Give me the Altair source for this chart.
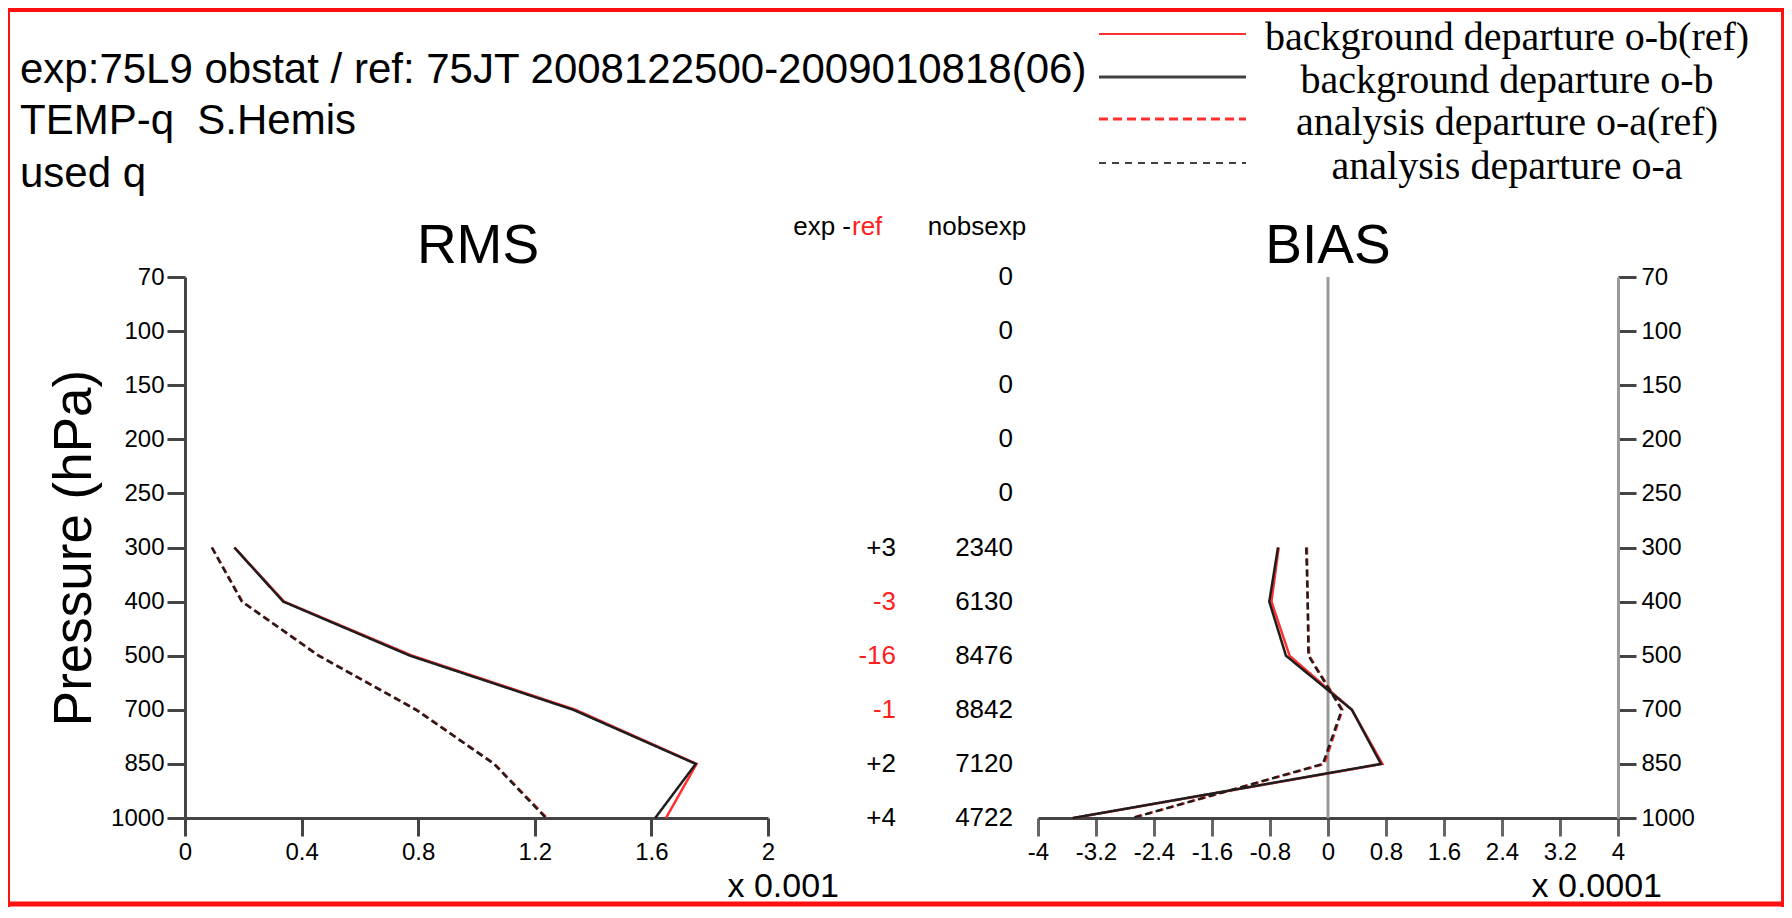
import altair as alt
import pandas as pd

# ---------------- data ----------------
levels = ["70", "100", "150", "200", "250", "300", "400", "500", "700", "850", "1000"]
obs_levels = ["300", "400", "500", "700", "850", "1000"]

# RMS  (x 0.001)
rms_ob_ref = [0.170, 0.340, 0.780, 1.340, 1.755, 1.650]
rms_ob_exp = [0.169, 0.337, 0.772, 1.332, 1.752, 1.613]
rms_oa_ref = [0.093, 0.197, 0.460, 0.795, 1.062, 1.242]
rms_oa_exp = [0.092, 0.195, 0.458, 0.792, 1.060, 1.238]

# BIAS (x 0.0001)
bias_ob_ref = [-0.68, -0.78, -0.53, 0.33, 0.75, -3.51]
bias_ob_exp = [-0.69, -0.81, -0.58, 0.33, 0.73, -3.52]
bias_oa_ref = [-0.29, -0.28, -0.26, 0.20, -0.05, -2.70]
bias_oa_exp = [-0.30, -0.28, -0.27, 0.19, -0.07, -2.70]

exp_minus_ref = [3, -3, -16, -1, 2, 4]
nobs_exp = [0, 0, 0, 0, 0, 2340, 6130, 8476, 8842, 7120, 4722]

series_names = [
    "background departure o-b(ref)",
    "background departure o-b",
    "analysis departure o-a(ref)",
    "analysis departure o-a",
]
title_lines = [
    "exp:75L9 obstat / ref: 75JT 2008122500-2009010818(06)",
    "TEMP-q\u00a0 S.Hemis",
    "used q",
]
rms_ticks = [0, 0.4, 0.8, 1.2, 1.6, 2]
bias_ticks = [-4, -3.2, -2.4, -1.6, -0.8, 0, 0.8, 1.6, 2.4, 3.2, 4]

# ---------------- layout ----------------
W, H = 1776, 899
SANS = "Liberation Sans"
SERIF = "Liberation Serif"
RED = "#ff3030"
DARK = "#1e1e1e"
AX = "#444444"

Y_TOP, Y_BOT = 269, 810
RMS_L, RMS_R = 177, 760
BIAS_L, BIAS_R = 1030, 1610

one = pd.DataFrame({"a": [0]})


def yscale():
    return alt.Scale(type="point", domain=levels, range=[Y_TOP, Y_BOT], padding=0)


def rms_scale():
    return alt.Scale(domain=[0, 2], range=[RMS_L, RMS_R], nice=False, zero=False)


def bias_scale():
    return alt.Scale(domain=[-4, 4], range=[BIAS_L, BIAS_R], nice=False, zero=False)


def prof_df(vals):
    return pd.DataFrame({"level": obs_levels, "idx": list(range(len(vals))), "v": vals})


common_axis = dict(
    grid=False, title=None, labelFont=SANS, labelFontSize=24, labelColor="black",
    tickSize=18, tickWidth=3, domainWidth=3, labelFlush=False, labelOverlap=False,
)

rms_xaxis = alt.Axis(orient="bottom", offset=-(H - Y_BOT), values=rms_ticks,
                     labelExpr="'' + datum.value", domainColor=AX, tickColor=AX,
                     labelPadding=4, **common_axis)
rms_yaxis = alt.Axis(orient="left", offset=-RMS_L, domainColor=AX, tickColor=AX,
                     labelPadding=3, **common_axis)
bias_xaxis = alt.Axis(orient="bottom", offset=-(H - Y_BOT), values=bias_ticks,
                      labelExpr="'' + datum.value", domainColor=AX, tickColor="#666666",
                      labelPadding=4, **common_axis)
bias_yaxis = alt.Axis(orient="right", offset=-(W - BIAS_R), domainColor="#999999",
                      tickColor=AX, labelPadding=5, **common_axis)


def profile(vals, xs, color, dash, width, xaxis=None, yaxis=None):
    return alt.Chart(prof_df(vals)).mark_line(
        color=color, strokeDash=dash, strokeWidth=width
    ).encode(
        x=alt.X("v:Q", scale=xs, axis=xaxis),
        y=alt.Y("level:O", scale=yscale(), axis=yaxis),
        order=alt.Order("idx:Q"),
    )


def text(t, x, y, size, color="black", align="left", baseline="alphabetic", font=SANS, angle=0):
    return alt.Chart(one).mark_text(
        align=align, baseline=baseline, font=font, fontSize=size, color=color, angle=angle
    ).encode(x=alt.value(x), y=alt.value(y), text=alt.value(t))


def hrule(x1, x2, y, color, width, dash=None):
    kw = dict(color=color, strokeWidth=width)
    if dash:
        kw["strokeDash"] = dash
    return alt.Chart(one).mark_rule(**kw).encode(x=alt.value(x1), x2=alt.value(x2), y=alt.value(y))


def vrule(x, y1, y2, color, width):
    return alt.Chart(one).mark_rule(color=color, strokeWidth=width).encode(
        x=alt.value(x), y=alt.value(y1), y2=alt.value(y2))


layers = []

# RMS panel
layers.append(profile(rms_ob_ref, rms_scale(), RED, [1, 0], 2.5, rms_xaxis, rms_yaxis))
layers.append(profile(rms_oa_ref, rms_scale(), RED, [7, 4], 2.5))
layers.append(profile(rms_ob_exp, rms_scale(), DARK, [1, 0], 2.5))
layers.append(profile(rms_oa_exp, rms_scale(), DARK, [7, 4], 2.5))

# BIAS panel: zero line
zero_df = pd.DataFrame({"x": [0], "y1": [levels[0]], "y2": [levels[-1]]})
layers.append(
    alt.Chart(zero_df).mark_rule(color="#999999", strokeWidth=3).encode(
        x=alt.X("x:Q", scale=bias_scale(), axis=None),
        y=alt.Y("y1:O", scale=yscale(), axis=None),
        y2="y2",
    )
)
layers.append(profile(bias_ob_ref, bias_scale(), RED, [1, 0], 2.5, bias_xaxis, bias_yaxis))
layers.append(profile(bias_oa_ref, bias_scale(), RED, [7, 4], 2.5))
layers.append(profile(bias_ob_exp, bias_scale(), DARK, [1, 0], 2.5))
layers.append(profile(bias_oa_exp, bias_scale(), DARK, [7, 4], 2.5))

# middle columns
diff_df = pd.DataFrame({"level": obs_levels, "d": exp_minus_ref})
layers.append(
    alt.Chart(diff_df).transform_calculate(
        lab="datum.d > 0 ? '+' + datum.d : '' + datum.d"
    ).mark_text(align="right", baseline="middle", font=SANS, fontSize=26).encode(
        x=alt.value(888),
        y=alt.Y("level:O", scale=yscale(), axis=None),
        text="lab:N",
        color=alt.condition("datum.d < 0", alt.value("#ff2020"), alt.value("black")),
    )
)
nobs_df = pd.DataFrame({"level": levels, "n": nobs_exp})
layers.append(
    alt.Chart(nobs_df).mark_text(align="right", baseline="middle", font=SANS, fontSize=26,
                                 color="black").encode(
        x=alt.value(1005),
        y=alt.Y("level:O", scale=yscale(), axis=None),
        text=alt.Text("n:Q", format="d"),
    )
)
layers.append(text("exp -", 843, 227, 26, align="right"))
layers.append(text("ref", 844, 227, 26, color="#ff2020"))
layers.append(text("nobsexp", 969, 227, 26, align="center"))

# panel titles & axis annotations
layers.append(text("RMS", 470, 255, 55, align="center"))
layers.append(text("BIAS", 1320, 255, 55, align="center"))
layers.append(text("Pressure (hPa)", 67, 540, 53, align="center", baseline="middle", angle=270))
layers.append(text("x 0.001", 831, 889, 34, align="right"))
layers.append(text("x 0.0001", 1654, 889, 34, align="right"))

# header text
for t, yb in zip(title_lines, [75, 126, 179]):
    layers.append(text(t, 12, yb, 42))

# legend
leg_colors = [RED, "#404040", RED, "#404040"]
leg_dash = [None, None, [9, 5], [7, 6]]
leg_width = [2, 3, 3, 2]
leg_y = [26, 69, 111, 155]
for name, c, d, w, ly in zip(series_names, leg_colors, leg_dash, leg_width, leg_y):
    layers.append(hrule(1091, 1238, ly, c, w, d))
    layers.append(text(name, 1499, ly + 16, 40, align="center", font=SERIF))

# red frame
layers.append(hrule(0, W, 2, "#ff1010", 4))
layers.append(hrule(0, W, H - 3, "#ff1010", 5))
layers.append(vrule(1, 0, H, "#ff1010", 2))
layers.append(vrule(W - 1.5, 0, H, "#ff1010", 3))

chart = alt.layer(*layers).resolve_scale(x="independent", y="independent").properties(
    width=W, height=H, padding=0, background="white",
    autosize=alt.AutoSizeParams(type="none"),
).configure_view(stroke=None)

chart.save("out.html", embed_options={"renderer": "svg", "actions": False})
